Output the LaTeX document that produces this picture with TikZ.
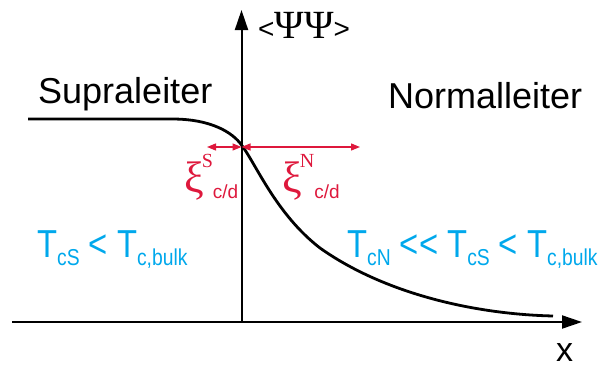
\documentclass[tikz,border=0pt]{standalone}
\usepackage{fontspec}
\setmainfont{Liberation Sans}
\newfontfamily\xifont{Liberation Serif}
\usetikzlibrary{arrows.meta,positioning}
\definecolor{xired}{RGB}{222,24,60}
\definecolor{tcblue}{RGB}{0,168,236}
% T with a lowered index
\newcommand{\Tsub}[1]{T\raisebox{-8pt}{\fontsize{23}{23}\selectfont #1}}
% coherence length xi^{S/N}_{c/d}
\newcommand{\xicd}[1]{{\xifont\fontsize{44}{44}\selectfont ξ}\hspace{-2pt}\raisebox{25pt}{\xifont\fontsize{20}{20}\selectfont #1}\raisebox{-6pt}{\fontsize{19}{19}\selectfont c/d}}

\begin{document}
\begin{tikzpicture}[x=1pt, y=-1pt,
  every node/.style={inner sep=0pt, anchor=base west},
  axis/.style={line width=2pt, -{Triangle[length=20pt,width=13pt]}},
  xiarrow/.style={xired, line width=1.3pt, {Triangle[length=9pt,width=7pt]}-{Triangle[length=9pt,width=7pt]}},
  phase/.style={font=\fontsize{36}{36}\selectfont},
  tclabel/.style={tcblue, font=\fontsize{39}{39}\selectfont, xscale=0.84},
  xilabel/.style={xired}]
\useasboundingbox (0,0) rectangle (605,367);

% =================== axes ===================
\coordinate (O) at (241.5,322);
\coordinate (xstart) at (12,322);
\coordinate (xend) at (582,322);
\coordinate (ytop) at (241.5,10);
\draw[axis] (xstart) -- (xend);
\draw[axis] (O) -- (ytop);
\node (ylab) at (258,38) {{\fontsize{28}{28}\selectfont <}{\xifont\fontsize{40}{40}\selectfont ΨΨ}{\fontsize{28}{28}\selectfont >}};
\node (xlab) at (556,361) {\fontsize{34}{34}\selectfont x};

% =================== order parameter ===================
\coordinate (flat) at (28,119);
\coordinate (bend) at (172,119);
\coordinate (iface) at (241.5,145);
\coordinate (mid) at (320,248);
\coordinate (tail) at (553,316);
\draw[line width=2.8pt]
  (flat) -- (bend)
  .. controls (212,119) and (233,133) .. (iface)
  .. controls (256,164) and (276,214) .. (mid)
  .. controls (382,292) and (470,314) .. (tail);

% =================== phases ===================
\node[phase] (supra) at (38,103) {Supraleiter};
\node[phase] (normal) at (388,108) {Normalleiter};

% =================== coherence lengths ===================
\coordinate (xiSleft) at (207,147);
\coordinate (xiNright) at (360,147);
\coordinate (xicenter) at (241.5,147);
\draw[xiarrow] (xiSleft) -- (xicenter);
\draw[xiarrow] (xicenter) -- (xiNright);
\node[xilabel] (xiS) at (184,192) {\xicd{S}};
\node[xilabel] (xiN) at (282,192) {\xicd{N}};

% =================== critical temperatures ===================
\node[tclabel] (tcS) at (37,257) {\Tsub{cS} < \Tsub{c,bulk}};
\node[tclabel] (tcN) at (347,257) {\Tsub{cN} <{}< \Tsub{cS} < \Tsub{c,bulk}};

\end{tikzpicture}
\end{document}
